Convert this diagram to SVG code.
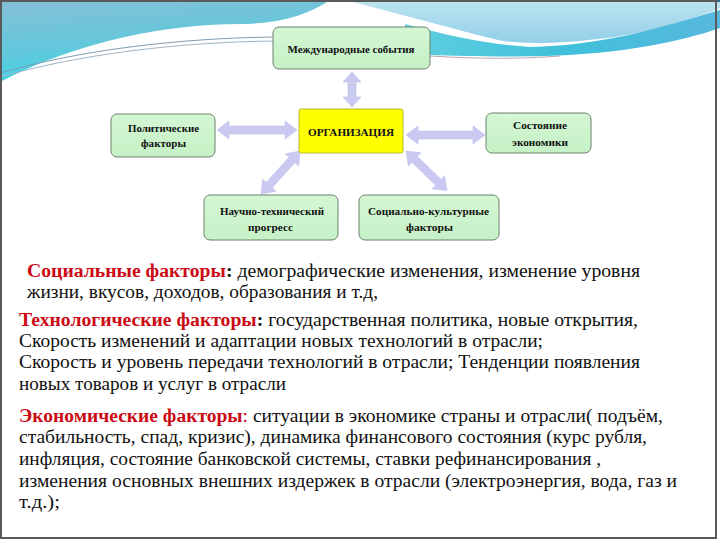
<svg xmlns="http://www.w3.org/2000/svg" width="720" height="540" viewBox="0 0 720 540">
<defs>
<linearGradient id="gl" x1="0" y1="0" x2="0.3" y2="1">
<stop offset="0" stop-color="#86bfd6"/><stop offset="0.6" stop-color="#62c8dc"/><stop offset="1" stop-color="#3ad6e6"/>
</linearGradient>
<linearGradient id="gr" x1="0" y1="0" x2="0" y2="1">
<stop offset="0" stop-color="#bde4f0"/><stop offset="1" stop-color="#92cfe8"/>
</linearGradient>
<linearGradient id="gb" x1="0" y1="0" x2="1" y2="0">
<stop offset="0" stop-color="#5fd0e0"/><stop offset="0.5" stop-color="#40c0da"/><stop offset="1" stop-color="#58b8de"/>
</linearGradient>
<linearGradient id="gbox" x1="0" y1="0" x2="0" y2="1">
<stop offset="0" stop-color="#d4f7d4"/><stop offset="1" stop-color="#c6f1c6"/>
</linearGradient>
<style>
.box{fill:url(#gbox);stroke:#6c806c;stroke-width:1}
.org{fill:#ffff00;stroke:#b8b830;stroke-width:1}
.bt{font-family:"Liberation Serif","Times New Roman",serif;font-size:11px;fill:#111;text-anchor:middle;font-weight:bold}
.arr{fill:#c9c9f2;stroke:#b8b8e8;stroke-width:0.5}
.p{font-family:"Liberation Serif","Times New Roman",serif;font-size:18px;fill:#111}
.r{fill:#cc0a14;font-weight:bold}
.b{font-weight:bold}
</style>
</defs>
<rect x="0" y="0" width="720" height="540" fill="#ffffff"/>
<g id="background">
<path d="M0,0 H330 C 310,14 280,24 240,24 C 170,24 80,40 0,82 Z" fill="url(#gl)"/>
<path d="M345,0 H720 V8 C 680,25 630,38 565,42 C 535,44 512,43 498,40 C 450,28 400,14 345,0 Z" fill="url(#gr)"/>
<path d="M405,24 C 450,36 485,44 530,47 C 600,46 660,28 720,10 V28 C 680,42 620,54 545,56 C 500,57 460,56 430,55 L405,50 Z" fill="url(#gb)"/>
<path d="M0,73 C 80,50 180,38 275,37" fill="none" stroke="#7f9db2" stroke-width="1"/>
<path d="M0,77 C 80,54 180,42 275,41" fill="none" stroke="#9fb6c6" stroke-width="1"/>
<path d="M430,56 C 480,59 520,59 560,56" fill="none" stroke="#c0a8b0" stroke-width="1"/>
<rect x="0" y="0" width="720" height="2" fill="#2c6c80"/>
<rect x="1" y="1" width="715" height="537" fill="none" stroke="#5a5a5a" stroke-width="2"/>
</g>
<g id="connectors">
<polygon class="arr" transform="translate(352,72) rotate(90)" points="0,0 10,-9 10,-4 25,-4 25,-9 35,0 25,9 25,4 10,4 10,9"/>
<polygon class="arr" transform="translate(217,130)" points="0,0 12,-9 12,-4 68,-4 68,-9 80,0 68,9 68,4 12,4 12,9"/>
<polygon class="arr" transform="translate(406,135)" points="0,0 12,-9 12,-4 67,-4 67,-9 79,0 67,9 67,4 12,4 12,9"/>
<polygon class="arr" transform="translate(300,151) rotate(132)" points="0,0 12,-9 12,-4 46,-4 46,-9 58,0 46,9 46,4 12,4 12,9"/>
<polygon class="arr" transform="translate(406,151) rotate(44)" points="0,0 12,-9 12,-4 45,-4 45,-9 57,0 45,9 45,4 12,4 12,9"/>
</g>
<g id="n-intl">
<rect class="box" x="273" y="27" width="157" height="42" rx="6"/>
<text class="bt" x="351" y="53" textLength="127" lengthAdjust="spacingAndGlyphs">Международные события</text>
</g>
<g id="n-org">
<rect class="org" x="299" y="109" width="104" height="44" rx="2"/>
<text class="bt" x="351" y="136" textLength="86" lengthAdjust="spacingAndGlyphs">ОРГАНИЗАЦИЯ</text>
</g>
<g id="n-polit">
<rect class="box" x="111" y="114" width="104" height="43" rx="6"/>
<text class="bt" x="163.5" y="132" textLength="71" lengthAdjust="spacingAndGlyphs">Политические</text>
<text class="bt" x="163.5" y="147" textLength="45" lengthAdjust="spacingAndGlyphs">факторы</text>
</g>
<g id="n-econ">
<rect class="box" x="486" y="113" width="105" height="40" rx="6"/>
<text class="bt" x="540" y="129" textLength="54" lengthAdjust="spacingAndGlyphs">Состояние</text>
<text class="bt" x="540" y="146" textLength="56" lengthAdjust="spacingAndGlyphs">экономики</text>
</g>
<g id="n-tech">
<rect class="box" x="204" y="195" width="134" height="45" rx="6"/>
<text class="bt" x="272" y="215" textLength="104" lengthAdjust="spacingAndGlyphs">Научно-технический</text>
<text class="bt" x="270.5" y="231" textLength="45" lengthAdjust="spacingAndGlyphs">прогресс</text>
</g>
<g id="n-soc">
<rect class="box" x="359" y="195" width="140" height="45" rx="6"/>
<text class="bt" x="428.5" y="215" textLength="121" lengthAdjust="spacingAndGlyphs">Социально-культурные</text>
<text class="bt" x="429.5" y="231" textLength="47" lengthAdjust="spacingAndGlyphs">факторы</text>
</g>
<g id="paragraphs">
<text class="p" x="27" y="277" textLength="613" lengthAdjust="spacingAndGlyphs"><tspan class="r">Социальные факторы</tspan><tspan class="b">:</tspan> демографические  изменения, изменение  уровня</text>
<text class="p" x="27" y="298" textLength="351" lengthAdjust="spacingAndGlyphs">жизни, вкусов, доходов, образования и т.д,</text>
<text class="p" x="19" y="326" textLength="619" lengthAdjust="spacingAndGlyphs"><tspan class="r">Технологические факторы</tspan><tspan class="b">:</tspan> государственная политика, новые открытия,</text>
<text class="p" x="19" y="347" textLength="524" lengthAdjust="spacingAndGlyphs">Скорость изменений и адаптации новых технологий в отрасли;</text>
<text class="p" x="19" y="368" textLength="621" lengthAdjust="spacingAndGlyphs">Скорость и уровень передачи технологий в отрасли; Тенденции появления</text>
<text class="p" x="19" y="390" textLength="267" lengthAdjust="spacingAndGlyphs">новых товаров и услуг в отрасли</text>
<text class="p" x="19" y="422" textLength="644" lengthAdjust="spacingAndGlyphs"><tspan class="r">Экономические факторы</tspan><tspan fill="#cc0a14">:</tspan> ситуации в экономике страны  и отрасли( подъём,</text>
<text class="p" x="19" y="443" textLength="628" lengthAdjust="spacingAndGlyphs">стабильность, спад, кризис), динамика финансового состояния (курс рубля,</text>
<text class="p" x="19" y="465" textLength="582" lengthAdjust="spacingAndGlyphs">инфляция, состояние банковской системы, ставки рефинансирования ,</text>
<text class="p" x="19" y="487" textLength="658" lengthAdjust="spacingAndGlyphs">изменения основных внешних издержек в отрасли (электроэнергия, вода, газ и</text>
<text class="p" x="19" y="508" textLength="41" lengthAdjust="spacingAndGlyphs">т.д.);</text>
</g>
</svg>
